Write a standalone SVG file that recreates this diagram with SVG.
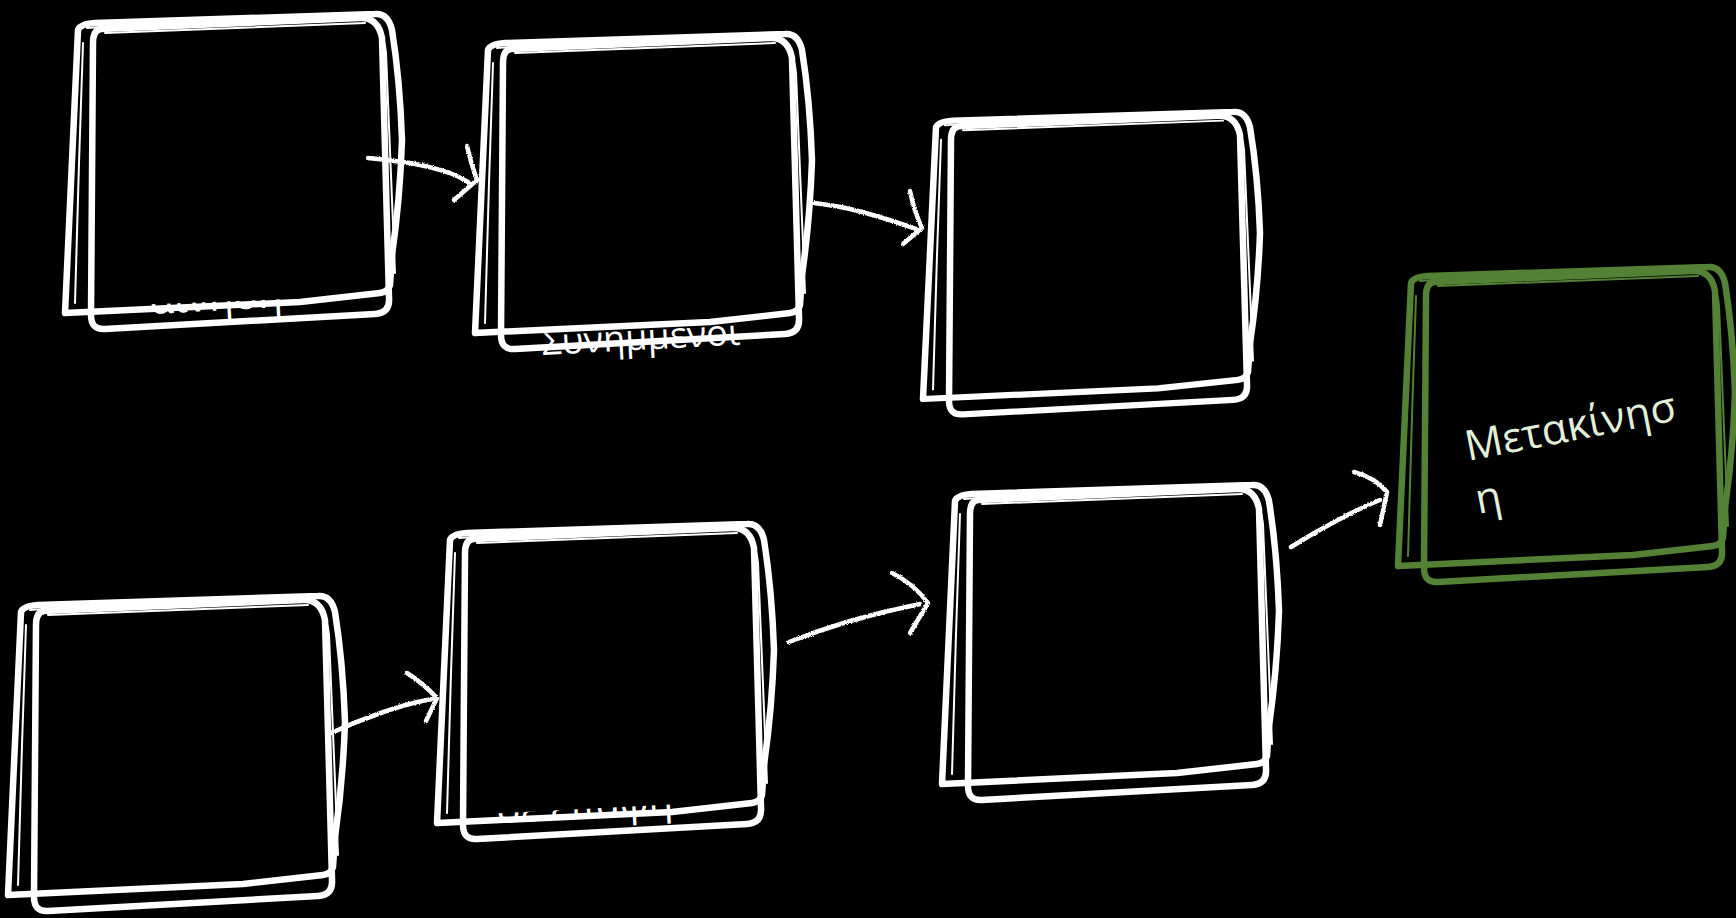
<svg xmlns="http://www.w3.org/2000/svg" xmlns:xlink="http://www.w3.org/1999/xlink" width="1736" height="918" viewBox="0 0 1736 918">
<style>
.bold{fill:none;stroke:currentColor;stroke-width:6.5;stroke-linejoin:round;stroke-linecap:round}
.thin{fill:none;stroke:currentColor;stroke-width:2;stroke-linecap:round}
.w{color:#ffffff}
.g{color:#538135}
.lbl{font-family:"Open Sans","Noto Sans",sans-serif;font-size:40px}
.hid{fill:#ffffff}
.conn path{fill:none;stroke:#ffffff;stroke-linecap:round;stroke-linejoin:round}
.shaft{stroke-width:4.5}
.head{stroke-width:4.5}
</style>
<defs>
<filter id="chalk" x="-10%" y="-30%" width="120%" height="160%">
<feTurbulence type="fractalNoise" baseFrequency="0.9" numOctaves="2" seed="3" result="n"/>
<feDisplacementMap in="SourceGraphic" in2="n" scale="2.5" xChannelSelector="R" yChannelSelector="G"/>
</filter>
<g id="frame">
<path d="M0,300 L13,17 Q15,11 30,10 L310,1 Q323,0 327,17 Q335,67 337,127 Q335,187 327,242 L325,272 Q323,279 315,280 L235,289 L0,300 Z" fill="#000" class="bold"/>
<path d="M36,16 L295,5 Q313,4 317,25 L324,285 Q325,300 310,301 L40,316 Q26,317 26,302 L28,30 Q28,17 36,16 Z" class="bold"/>
<path d="M22,15 L120,8 L305,3" class="thin"/>
<path d="M300,6 Q318,10 321,40 L330,260" class="thin"/>
<path d="M18,30 L14,150 L10,290" class="thin"/>
<path d="M40,20 L300,10" class="thin"/>
</g>
<clipPath id="c1"><polygon points="130,305 315,298 315,335 130,335"/></clipPath>
<clipPath id="c2"><polygon points="530,334 745,324 745,375 530,375"/></clipPath>
<clipPath id="c6"><polygon points="485,814 680,804 680,845 485,845"/></clipPath>
</defs>
<rect x="0" y="0" width="1736" height="918" fill="#000"/>

<g id="node1">
<use xlink:href="#frame" href="#frame" class="w" transform="translate(65,13)"/>
<g clip-path="url(#c1)"><text class="lbl hid" x="150" y="314" transform="rotate(-3 150 314)">αίνηση</text></g>
</g>
<g id="node2">
<use xlink:href="#frame" href="#frame" class="w" transform="translate(475,33)"/>
<g clip-path="url(#c2)"><text class="lbl hid" style="font-size:36px" x="542" y="355" transform="rotate(-3 542 355)">Συνημμένοι</text></g>
</g>
<g id="node3">
<use xlink:href="#frame" href="#frame" class="w" transform="translate(923,111) scale(1,0.96)"/>
</g>
<g id="node4">
<use xlink:href="#frame" href="#frame" class="g" transform="translate(1398,266)"/>
<text class="lbl" style="font-size:42px" fill="#e2efda" x="1468" y="461" transform="rotate(-11 1468 461)">Μετακίνησ<tspan x="1468" y="515">η</tspan></text>
</g>
<g id="node5">
<use xlink:href="#frame" href="#frame" class="w" transform="translate(8,595)"/>
</g>
<g id="node6">
<use xlink:href="#frame" href="#frame" class="w" transform="translate(437,523)"/>
<g clip-path="url(#c6)"><text class="lbl hid" x="497" y="823" transform="rotate(-3 497 823)">σε επαφή</text></g>
</g>
<g id="node7">
<use xlink:href="#frame" href="#frame" class="w" transform="translate(942,484)"/>
</g>

<g id="connectors" class="conn" filter="url(#chalk)">
<path class="shaft" d="M368,158 Q390,160 410,163 Q432,167 450,173 Q460,177 468,182"/>
<path class="head" d="M467,146 Q471,164 477,180 L454,200"/>
<path class="shaft" d="M814,203 Q840,206 862,212 Q888,219 916,229"/>
<path class="head" d="M910,191 Q914,211 922,228 L903,244"/>
<path class="shaft" d="M331,733 Q355,722 378,714 Q405,704 432,699"/>
<path class="head" d="M407,673 Q424,684 437,698 L426,721"/>
<path class="shaft" d="M789,642 Q820,630 850,621 Q885,611 920,604"/>
<path class="head" d="M892,573 Q914,584 928,603 L910,633"/>
<path class="shaft" d="M1291,547 Q1315,532 1338,520 Q1360,508 1380,500"/>
<path class="head" d="M1354,472 Q1376,478 1387,492 L1380,525"/>
</g>
</svg>
